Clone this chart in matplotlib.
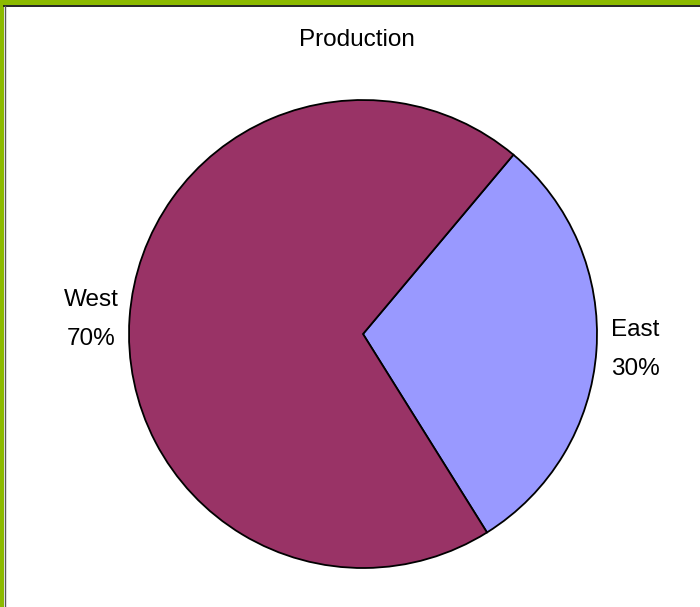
import matplotlib
matplotlib.use("Agg")
import matplotlib.pyplot as plt
from matplotlib.patches import Rectangle

categories = ["East", "West"]
values = [30, 70]
colors = ["#9999FF", "#993366"]
title = "Production"

plt.rcParams['font.family'] = ['Liberation Sans', 'DejaVu Sans']

W, H = 700, 607
fig = plt.figure(figsize=(W / 100, H / 100), dpi=100)
fig.patch.set_facecolor("white")

# frame: green band at top and left, thin dark line inside
green = "#8CBA00"
fig.patches.append(Rectangle((0, 1 - 5 / H), 1, 5 / H, transform=fig.transFigure,
                             facecolor=green, edgecolor="none", zorder=0))
fig.patches.append(Rectangle((0, 0), 4 / W, 1, transform=fig.transFigure,
                             facecolor=green, edgecolor="none", zorder=0))
fig.add_artist(plt.Line2D([4 / W, 1], [1 - 5.5 / H, 1 - 5.5 / H], transform=fig.transFigure,
                          color="black", lw=1.2))
fig.add_artist(plt.Line2D([4.5 / W, 4.5 / W], [0, 1 - 5.5 / H], transform=fig.transFigure,
                          color="#555555", lw=1.0))

cx, cy, r = 363, 334, 234
ax = fig.add_axes([(cx - r) / W, (H - cy - r) / H, 2 * r / W, 2 * r / H])
total = sum(values)
labels = [f"{c}\n{round(v * 100 / total)}%" for c, v in zip(categories, values)]
wedges, texts = ax.pie(values, colors=colors, startangle=-58, counterclock=True,
                       labels=labels, labeldistance=1.165, radius=1,
                       wedgeprops=dict(edgecolor="black", linewidth=1.3))
nudges = {"East": 4 / r, "West": -5 / r}
for t, c in zip(texts, categories):
    t.set_ha("center")
    t.set_va("center")
    t.set_fontsize(17.5)
    t.set_linespacing(2.0)
    x, y = t.get_position()
    t.set_position((x, y + nudges[c]))
ax.set_xlim(-1, 1)
ax.set_ylim(-1, 1)
ax.set_aspect("equal")
ax.axis("off")

fig.text(357 / W, 1 - 40 / H, title, ha="center", va="center", fontsize=17.5)

fig.savefig("out.png", dpi=100)
